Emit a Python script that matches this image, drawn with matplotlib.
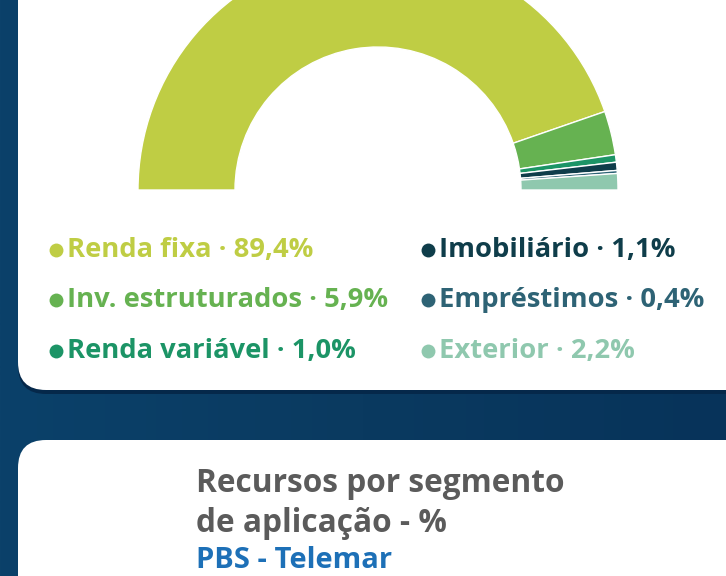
import matplotlib.pyplot as plt
from matplotlib.patches import FancyBboxPatch
from matplotlib.colors import LinearSegmentedColormap
import numpy as np

# Segment data (PBS - Telemar)
labels = ['Renda fixa', 'Inv. estruturados', 'Renda variável',
          'Imobiliário', 'Empréstimos', 'Exterior']
values = [89.4, 5.9, 1.0, 1.1, 0.4, 2.2]
colors = ['#bfcd44', '#66b251', '#1c9466', '#0f3d4a', '#2e6375', '#8fc8ae']

title_lines = ['Recursos por segmento', 'de aplicação - %']
subtitle = 'PBS - Telemar'

W, H = 726, 576


def Y(y):
    # image pixel row -> data y
    return H - y


fig = plt.figure(figsize=(7.26, 5.76), dpi=100)
ax = fig.add_axes([0, 0, 1, 1])

# background gradient
grad = np.linspace(0, 1, 256).reshape(1, -1)
bg_cmap = LinearSegmentedColormap.from_list('bg', ['#0b416a', '#0a3a60', '#07335a'])
ax.imshow(grad, extent=[0, W, 0, H], cmap=bg_cmap, aspect='auto', zorder=0)

# cards (with a small shadow)
for top, bottom in [(-60, 390), (440, 640)]:
    shadow = FancyBboxPatch((18, Y(bottom) - 4), 740, bottom - top,
                            boxstyle='round,pad=0,rounding_size=28',
                            facecolor='#05284a', edgecolor='none', zorder=1)
    ax.add_patch(shadow)
    card = FancyBboxPatch((18, Y(bottom)), 740, bottom - top,
                          boxstyle='round,pad=0,rounding_size=28',
                          facecolor='white', edgecolor='none', zorder=2)
    ax.add_patch(card)

# half donut: add an invisible wedge equal to the total
pie_vals = values + [sum(values)]
pie_cols = colors + ['none']
wedges, _ = ax.pie(pie_vals, colors=pie_cols, startangle=180, counterclock=False,
                   center=(378, Y(190)), radius=240, frame=True,
                   wedgeprops=dict(width=97, edgecolor='white', linewidth=1))
for w in wedges:
    w.set_zorder(3)
wedges[-1].set_edgecolor('none')

ax.set_xlim(0, W)
ax.set_ylim(0, H)
ax.set_aspect('equal')
ax.axis('off')

# legend
font = 'Open Sans'
col_x = [56, 428]
row_y = [250, 300, 351]
for i, (lab, val, col) in enumerate(zip(labels, values, colors)):
    cx = col_x[i // 3]
    cy = row_y[i % 3]
    ax.scatter([cx], [Y(cy)], s=100, color=col, zorder=4, linewidths=0)
    val_txt = f'{val:.1f}'.replace('.', ',') + '%'
    ax.text(cx + 11, Y(cy), f'{lab} \u00b7 {val_txt}', color=col,
            fontsize=19.7, fontweight='bold', family=font,
            va='center', ha='left', zorder=4)

# title of the next card
for j, line in enumerate(title_lines):
    ax.text(196, Y(484 + j * 39), line, color='#5b5b5b', fontsize=22.8,
            fontweight='bold', family=font, va='center', ha='left', zorder=4)
ax.text(196, Y(561), subtitle, color='#1d70b7', fontsize=21,
        fontweight='bold', family=font, va='center', ha='left', zorder=4)

fig.savefig('out.png', dpi=100)
